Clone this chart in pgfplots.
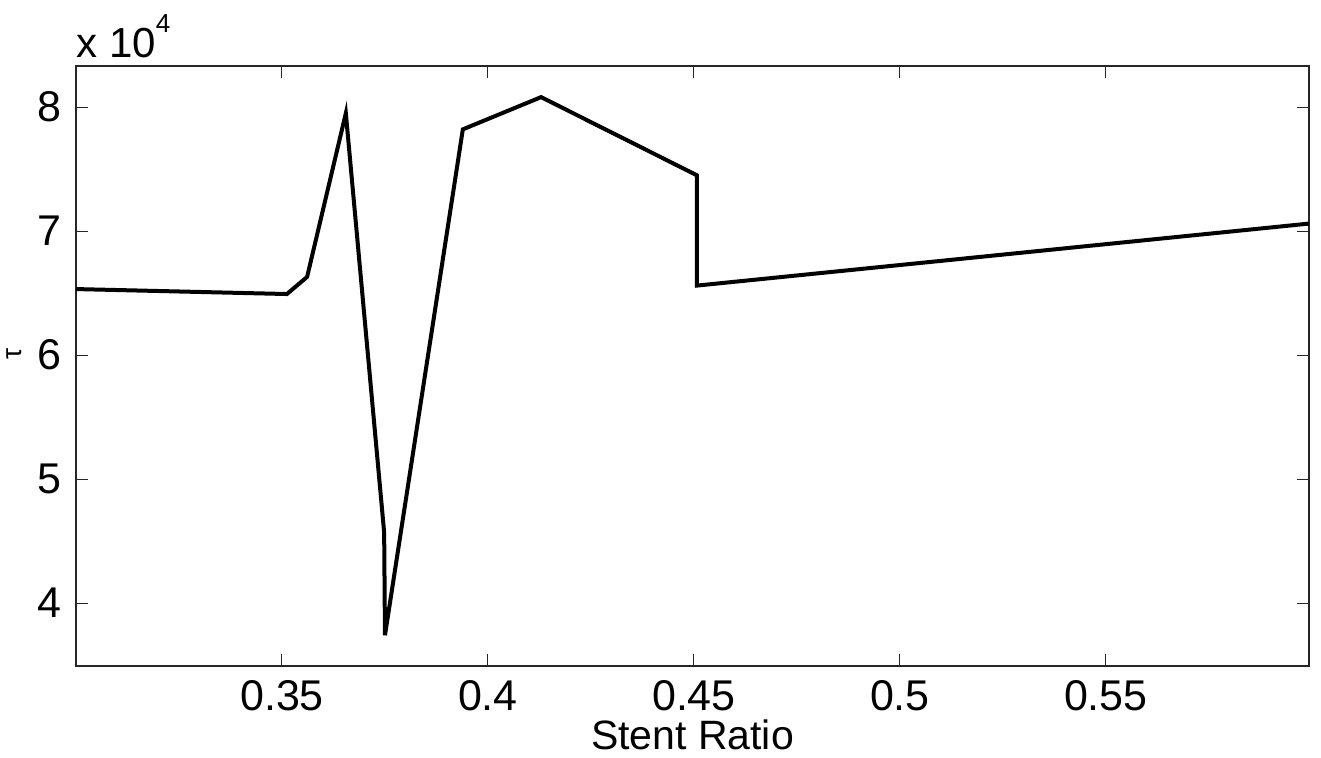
\documentclass[border=0pt]{standalone}
\usepackage{fontspec}
\setmainfont{Liberation Sans}
\usepackage{pgfplots}
\pgfplotsset{compat=1.18}
\begin{document}
\begin{tikzpicture}
\useasboundingbox (-38pt,-45.5pt) rectangle (622.5pt,333pt);
\begin{axis}[
  at={(0,0)}, anchor=south west,
  scale only axis, width=616.5pt, height=300pt,
  xmin=0.3, xmax=0.5993, ymin=34920, ymax=83310,
  axis line style={line width=0.6pt, black!85},
  tick align=inside, major tick length=6pt,
  tick style={line width=0.5pt, black!85},
  xtick={0.35,0.4,0.45,0.5,0.55},
  xticklabels={0.35,0.4,0.45,0.5,0.55},
  ytick={40000,50000,60000,70000,80000},
  yticklabels={4,5,6,7,8},
  scaled y ticks=false, scaled x ticks=false,
  /pgf/number format/assume math mode=true,
  ticklabel style={font=\fontsize{21.5}{25}\selectfont},
  xticklabel style={inner sep=0pt, anchor=north, yshift=-7pt},
  yticklabel style={inner sep=0pt, anchor=east, xshift=-7pt},
  xlabel={Stent Ratio},
  xlabel style={font=\fontsize{20.5}{24}\selectfont, inner sep=0pt, at={(axis description cs:0.5,0)}, anchor=north, yshift=-26.5pt},
  ylabel={τ},
  ylabel style={font=\fontsize{14}{16}\selectfont, inner sep=0pt, at={(axis description cs:-0.0503,0.52)}, anchor=center, rotate=0},
  clip mode=individual,
]
\addplot[black, line width=2pt, line join=miter] coordinates {
(0.3000,65320)
(0.3512,64920)
(0.3561,66300)
(0.3655,79500)
(0.3748,45700)
(0.3750,37400)
(0.3939,78200)
(0.4129,80800)
(0.4507,74500)
(0.4507,65600)
(0.5993,70600)
};
\end{axis}
\node[anchor=base west, inner sep=0pt, font=\fontsize{21}{25}\selectfont] at (0pt,304.5pt) {x 10\raisebox{12.5pt}{\fontsize{13}{15}\selectfont 4}};
\end{tikzpicture}
\end{document}
